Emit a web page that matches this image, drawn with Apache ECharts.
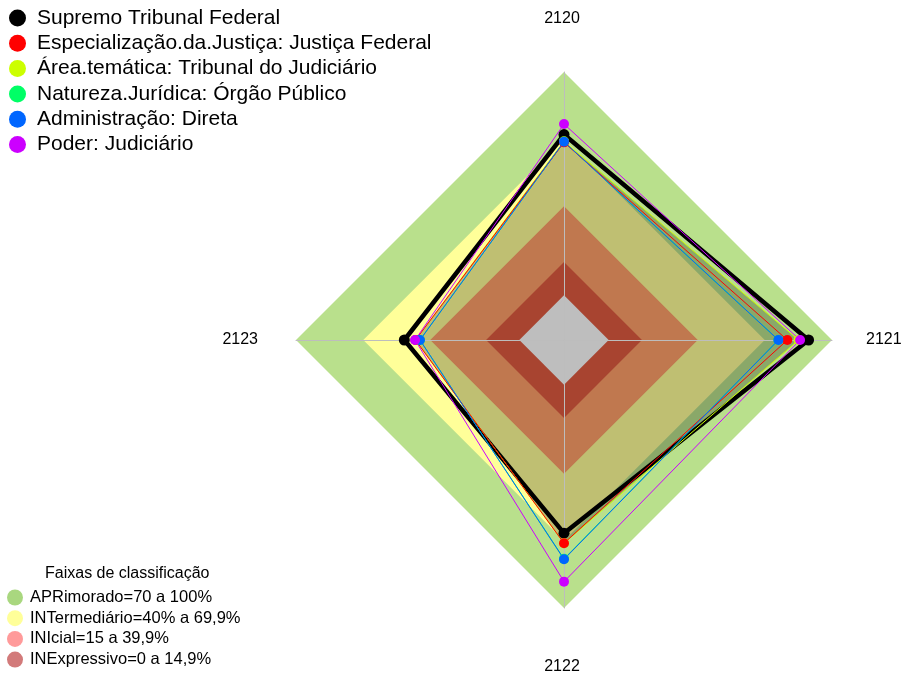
<!DOCTYPE html>
<html>
<head>
<meta charset="utf-8">
<script src="https://cdn.jsdelivr.net/npm/echarts@6/dist/echarts.min.js"></script>
<style>
  html, body { margin: 0; padding: 0; background: #fff; }
  #chart { width: 905px; height: 675px; }
</style>
</head>
<body>
<div id="chart"></div>
<script>
// eixos (sentido horário a partir do topo)
var categorias = ['2120', '2121', '2122', '2123'];

// séries (valores em %, mesma ordem das categorias)
var nomes = [
  'Supremo Tribunal Federal',
  'Especialização.da.Justiça: Justiça Federal',
  'Área.temática: Tribunal do Judiciário',
  'Natureza.Jurídica: Órgão Público',
  'Administração: Direta',
  'Poder: Judiciário'
];
var stf = [72, 89.5, 66.5, 51.5];
var justicaFederal = [68.5, 80, 71, 46.5];
var areaTematica = [69, 85, 71, 46.5];
var naturezaJuridica = [68.8, 76, 78, 44.5];
var administracao = [68.8, 76, 78.2, 44.5];
var poder = [76.7, 85.7, 88.2, 46.7];
var cores = ['#000000', '#FF0000', '#CCFF00', '#00FF66', '#0066FF', '#CC00FF'];

// faixas de classificação
var faixas = ['APRimorado=70 a 100%', 'INTermediário=40% a 69,9%', 'INIcial=15 a 39,9%', 'INExpressivo=0 a 14,9%'];
var limitesFaixas = [100, 69.9, 39.9, 14.9];
var coresLegendaFaixas = ['#A9D77F', '#FFFF99', '#FF9A9A', '#D27A7A'];
var coresFaixas = ['#B9E08C', '#FFFF99', '#C0784F', '#A84430'];

var valoresSeries = [stf, justicaFederal, areaTematica, naturezaJuridica, administracao, poder];
// ordem de desenho das séries (as últimas ficam por cima)
var ordemDesenho = [0, 2, 3, 1, 4, 5];

// echarts gira no sentido anti-horário: reordena 2120, 2123, 2122, 2121
var ordem = [0, 3, 2, 1];
function reordena(arr) {
  return ordem.map(function (i) { return arr[i]; });
}
function constante(v) {
  return categorias.map(function () { return v; });
}

var myChart = echarts.init(document.getElementById('chart'));

function serieFaixa(i) {
  return {
    name: faixas[i],
    type: 'radar',
    z: 1,
    silent: true,
    symbol: 'none',
    itemStyle: { color: coresLegendaFaixas[i] },
    lineStyle: { width: 0, opacity: 0 },
    areaStyle: { color: coresFaixas[i], opacity: 1 },
    data: [{ value: reordena(constante(limitesFaixas[i])), name: faixas[i] }]
  };
}

var series = [];
series.push(serieFaixa(0));
series.push(serieFaixa(1));
// sombreamento da área dos dados
series.push({
  type: 'radar',
  z: 1,
  silent: true,
  symbol: 'none',
  lineStyle: { width: 0, opacity: 0 },
  areaStyle: { color: 'rgba(0,0,0,0.25)', opacity: 1 },
  data: [{ value: reordena(areaTematica) }]
});
series.push(serieFaixa(2));
series.push(serieFaixa(3));
// centro cinza
series.push({
  type: 'radar',
  z: 1,
  silent: true,
  symbol: 'none',
  lineStyle: { width: 0, opacity: 0 },
  areaStyle: { color: '#BEBEBE', opacity: 1 },
  data: [{ value: reordena(constante(0)) }]
});

ordemDesenho.forEach(function (i) {
  series.push({
    name: nomes[i],
    type: 'radar',
    z: 3,
    symbol: 'circle',
    symbolSize: i === 0 ? 11 : 10,
    itemStyle: { color: cores[i] },
    lineStyle: { color: cores[i], width: i === 0 ? 4.5 : 1 },
    data: [{ value: reordena(valoresSeries[i]), name: nomes[i] }]
  });
});

option = {
  animation: false,
  backgroundColor: '#fff',
  title: {
    text: 'Faixas de classificação',
    left: 40,
    top: 561,
    textStyle: { fontFamily: 'Liberation Sans', fontSize: 16, fontWeight: 'normal', color: '#000' }
  },
  legend: [
    {
      orient: 'vertical',
      left: 9,
      top: 7,
      padding: 0,
      icon: 'circle',
      itemWidth: 17,
      itemHeight: 17,
      itemGap: 3.3,
      textStyle: { fontFamily: 'Liberation Sans', fontSize: 21, color: '#000', lineHeight: 22, padding: [0, 0, 0, 6] },
      data: nomes.map(function (n, i) {
        return { name: n, itemStyle: { color: cores[i], borderWidth: 0 } };
      })
    },
    {
      orient: 'vertical',
      left: 7,
      top: 589,
      padding: 0,
      icon: 'circle',
      itemWidth: 16,
      itemHeight: 16,
      itemGap: 3.7,
      textStyle: { fontFamily: 'Liberation Sans', fontSize: 16.5, color: '#000', lineHeight: 17, padding: [0, 0, 0, 2] },
      data: faixas.map(function (n, i) {
        return { name: n, itemStyle: { color: coresLegendaFaixas[i], borderWidth: 0 } };
      })
    }
  ],
  radar: {
    center: [564, 340],
    radius: 268,
    shape: 'polygon',
    startAngle: 90,
    z: 2,
    nameGap: 34,
    axisName: {
      color: '#000',
      fontFamily: 'Liberation Sans',
      fontSize: 16,
      padding: [17, 4, 11, 0]
    },
    indicator: reordena(categorias).map(function (c) {
      return { name: c, min: -20, max: 100 };
    }),
    splitNumber: 1,
    axisLine: { lineStyle: { color: '#BDBDBD', width: 1 } },
    splitLine: { show: false },
    splitArea: { show: false }
  },
  series: series
};

myChart.setOption(option);
</script>
</body>
</html>
